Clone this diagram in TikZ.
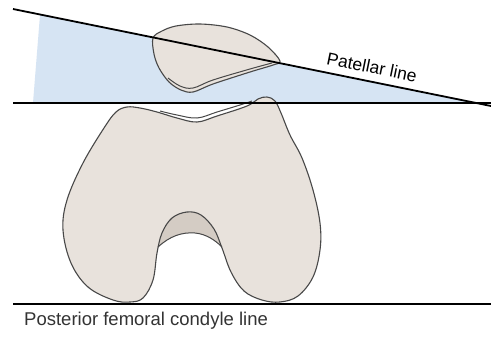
\documentclass[tikz,border=0pt]{standalone}
\usepackage{fontspec}
\setmainfont{Liberation Sans}
\usepackage{tikz}
\usetikzlibrary{arrows.meta,positioning,calc}
\usepackage{xcolor}

\definecolor{wedgeblue}{RGB}{214,228,243}
\definecolor{bone}{RGB}{232,226,220}
\definecolor{notchgray}{RGB}{212,204,196}
\definecolor{outline}{RGB}{72,72,72}

\tikzset{
  refline/.style={line width=1.8pt, black},
  bonebody/.style={fill=bone, draw=outline, line width=1.1pt},
  boneedge/.style={draw=outline, line width=1.0pt},
  label/.style={font=\fontsize{17.5}{19}\selectfont, inner sep=0pt}
}

\begin{document}
\begin{tikzpicture}[x=1pt, y=-1pt]
  \useasboundingbox[fill=white] (0,0) rectangle (491,338);

  % Define end points of the reference lines
  \coordinate (Pa) at (13,9);
  \coordinate (Pb) at (491,106);
  \coordinate (Ha) at (13,103);
  \coordinate (Hb) at (491,103);
  \coordinate (Ca) at (13,304);
  \coordinate (Cb) at (491,304);
  \coordinate (W) at (476,103);

  % Angle wedge between patellar line and horizontal
  \fill[wedgeblue] (40,15) -- (33,103) -- (W) -- cycle;

  % Intercondylar notch, shaded part
  \fill[notchgray] (150,205) -- (150,250) -- (158,247)
    .. controls (170,236) and (182,232) .. (195,233)
    .. controls (206,234) and (215,240) .. (222,247) -- (226,205) -- cycle;

  % Femur, seen end on
  \draw[bonebody] plot[smooth cycle, tension=0.6] coordinates {
    (127,107) (140,108) (157,112) (177,118) (197,122) (217,116) (247,106)
    (258,99) (267,97) (275,101) (281,113) (290,135) (302,158) (313,190)
    (320,223) (320,250) (313,277) (298,296) (280,302) (262,300) (244,291)
    (231,272) (222,248) (214,229) (201,215) (187,212) (172,218) (162,233)
    (157,253) (153,280) (143,298) (130,302) (113,300) (88,287) (71,263)
    (63,230) (67,200) (83,163) (104,128) (116,112)};
  \draw[boneedge] (158,247)
    .. controls (170,236) and (182,232) .. (195,233)
    .. controls (206,234) and (215,240) .. (222,247);
  % trochlear groove
  \draw[boneedge] plot[smooth, tension=0.6] coordinates {
    (160,111) (177,115) (197,118) (217,112) (240,105) (252,101)};

  % Patella
  \draw[bonebody] plot[smooth cycle, tension=0.55] coordinates {
    (153,38) (162,31) (176,26) (200,24) (227,27) (250,35) (268,47)
    (280,61) (273,65) (250,72) (213,84) (193,92) (181,90) (169,82)
    (159,68) (154,54)};
  \draw[boneedge] plot[smooth, tension=0.6] coordinates {
    (168,78) (180,86) (193,88) (213,80) (250,69) (272,63)};

  % Reference lines
  \draw[refline] (Pa) -- (Pb);
  \draw[refline] (Ha) -- (Hb);
  \draw[refline] (Ca) -- (Cb);

  % Labels
  \node[label, rotate=-11.5] (patlabel) at (372,67) {Patellar line};
  \node[label, anchor=base west, text=black!80,
        font=\fontsize{18.5}{20}\selectfont] (condlabel) at (24,325)
    {Posterior femoral condyle line};
\end{tikzpicture}
\end{document}
